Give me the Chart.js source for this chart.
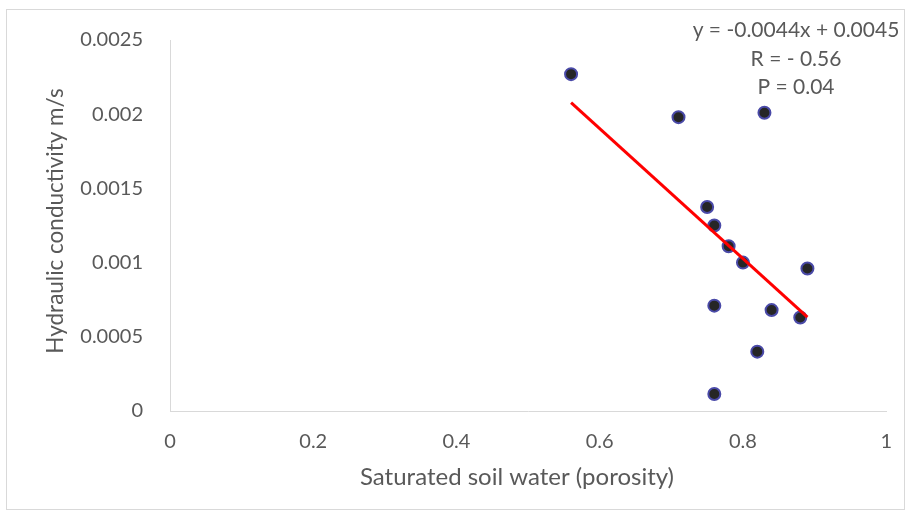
<!DOCTYPE html>
<html>
<head>
<meta charset="utf-8">
<script src="https://cdn.jsdelivr.net/npm/chart.js@4.4.1/dist/chart.umd.min.js"></script>
<style>
  html, body { margin: 0; padding: 0; background: #ffffff; }
  #wrap { width: 911px; height: 519px; position: relative; }
</style>
</head>
<body>
<div id="wrap"><canvas id="c" width="911" height="519"></canvas></div>
<script>
// ---- data ----
const porosity = [0.56, 0.71, 0.83, 0.75, 0.76, 0.78, 0.80, 0.89, 0.76, 0.84, 0.88, 0.82, 0.76];
const conductivity = [0.00227, 0.00198, 0.00201, 0.001375, 0.00125, 0.00111, 0.00100, 0.00096, 0.00071, 0.00068, 0.00063, 0.00040, 0.000115];
const xTickLabels = ['0', '0.2', '0.4', '0.6', '0.8', '1'];
const yTickLabels = ['0', '0.0005', '0.001', '0.0015', '0.002', '0.0025'];
const annotationLines = ['y = -0.0044x + 0.0045', 'R = - 0.56', 'P = 0.04'];
const xTitle = 'Saturated soil water (porosity)';
const yTitle = 'Hydraulic conductivity m/s';

// least-squares trend line (as Excel's linear trendline)
const n = porosity.length;
const mx = porosity.reduce((a, b) => a + b, 0) / n;
const my = conductivity.reduce((a, b) => a + b, 0) / n;
let sxy = 0, sxx = 0;
for (let i = 0; i < n; i++) { sxy += (porosity[i] - mx) * (conductivity[i] - my); sxx += (porosity[i] - mx) ** 2; }
const slope = sxy / sxx, intercept = my - slope * mx;
const xMin = Math.min(...porosity), xMax = Math.max(...porosity);
const trend = [{ x: xMin, y: intercept + slope * xMin }, { x: xMax, y: intercept + slope * xMax }];

const points = porosity.map((x, i) => ({ x: x, y: conductivity[i] }));

const FONT = 'Lato, "Open Sans", sans-serif';
const GREY = '#595959';

const frame = {
  id: 'frame',
  beforeDraw(chart) {
    const ctx = chart.ctx;
    ctx.save();
    ctx.fillStyle = '#ffffff';
    ctx.fillRect(0, 0, chart.width, chart.height);
    ctx.strokeStyle = '#d9d9d9';
    ctx.lineWidth = 1;
    ctx.strokeRect(6.5, 9.5, 898, 500);
    ctx.restore();
  },
  afterDraw(chart) {
    const ctx = chart.ctx;
    ctx.save();
    ctx.fillStyle = GREY;
    ctx.textAlign = 'center';
    ctx.textBaseline = 'middle';
    // trendline label
    ctx.font = '21px ' + FONT;
    const ys = [30, 59, 87];
    annotationLines.forEach((t, i) => ctx.fillText(t, 796, ys[i]));
    // axis titles
    ctx.font = '24px ' + FONT;
    ctx.fillText(xTitle, 517, 477);
    ctx.translate(56, 221);
    ctx.rotate(-Math.PI / 2);
    ctx.font = '22.5px ' + FONT;
    ctx.fillText(yTitle, 0, 0);
    ctx.restore();
  }
};

new Chart(document.getElementById('c'), {
  type: 'scatter',
  data: {
    datasets: [
      {
        type: 'line',
        data: trend,
        borderColor: '#ff0000',
        borderWidth: 3,
        pointRadius: 0,
        fill: false,
        order: 0
      },
      {
        data: points,
        backgroundColor: '#262626',
        borderColor: '#4a4aa8',
        borderWidth: 2,
        pointRadius: 6,
        order: 1
      }
    ]
  },
  options: {
    responsive: false,
    animation: false,
    devicePixelRatio: 1,
    layout: { padding: { top: 40, right: 22, left: 0, bottom: 0 } },
    plugins: { legend: { display: false }, tooltip: { enabled: false } },
    scales: {
      x: {
        type: 'linear',
        min: 0, max: 1,
        afterBuildTicks(s) { s.ticks = xTickLabels.map(v => ({ value: parseFloat(v) })); },
        afterFit(s) { s.height = 108; },
        grid: { display: false, drawTicks: false },
        border: { display: true, color: '#d9d9d9', width: 1 },
        ticks: {
          padding: 19,
          color: GREY,
          font: { family: FONT, size: 20 },
          callback: (v, i) => xTickLabels[i]
        },
        title: { display: false }
      },
      y: {
        type: 'linear',
        min: 0, max: 0.0025,
        afterBuildTicks(s) { s.ticks = yTickLabels.map(v => ({ value: parseFloat(v) })); },
        afterFit(s) { s.width = 170; },
        grid: { display: false, drawTicks: false },
        border: { display: true, color: '#d9d9d9', width: 1 },
        ticks: {
          padding: 27,
          color: GREY,
          font: { family: FONT, size: 20 },
          callback: (v, i) => yTickLabels[i]
        },
        title: { display: false }
      }
    }
  },
  plugins: [frame]
});
</script>
</body>
</html>
